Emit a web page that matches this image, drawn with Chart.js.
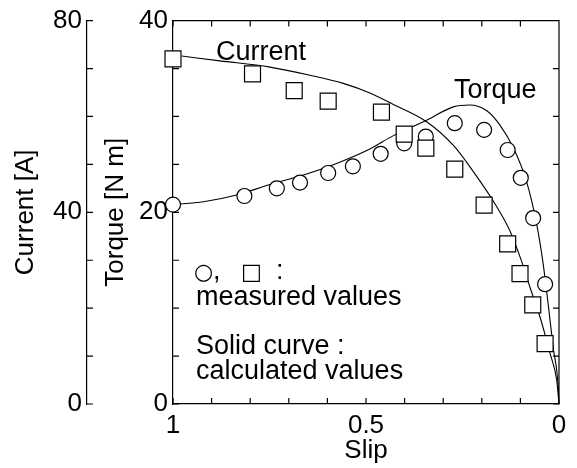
<!DOCTYPE html>
<html>
<head>
<meta charset="utf-8">
<script src="https://cdn.jsdelivr.net/npm/chart.js@4.4.1/dist/chart.umd.min.js"></script>
<style>
html, body { margin: 0; padding: 0; background: #fff; }
canvas { display: block; }
</style>
</head>
<body>
<canvas id="myChart" width="577" height="468"></canvas>
<script>
// tick labels
var slipTicks = [1, 0.5, 0];
var torqueTicks = [0, 20, 40];
var currentTicks = [0, 40, 80];
var slipMinorStep = 0.1, torqueMinorStep = 5, currentMinorStep = 10;

// measured torque (circles)
var measSlipT = [1.0, 0.815, 0.731, 0.671, 0.598, 0.534, 0.462, 0.401, 0.345, 0.270, 0.194, 0.133, 0.099, 0.067, 0.036];
var measTorque = [20.8, 21.7, 22.5, 23.1, 24.1, 24.8, 26.1, 27.2, 27.9, 29.3, 28.6, 26.5, 23.6, 19.4, 12.5];

// measured current (squares)
var measSlipI = [1.0, 0.794, 0.686, 0.598, 0.460, 0.401, 0.345, 0.270, 0.194, 0.133, 0.101, 0.068, 0.036];
var measCurrent = [72.0, 68.9, 65.4, 63.2, 60.9, 56.3, 53.4, 49.0, 41.5, 33.4, 27.2, 20.7, 12.6];

// calculated torque (solid curve)
var calcSlipT = [1.0, 0.921, 0.835, 0.749, 0.662, 0.576, 0.490, 0.429, 0.343, 0.274, 0.231, 0.187, 0.153, 0.118, 0.084, 0.058, 0.042, 0.028, 0.015, 0.002, 0];
var calcTorque = [20.8, 21.1, 21.8, 22.9, 23.9, 25.1, 26.6, 28.0, 29.6, 31.0, 31.2, 30.6, 29.1, 26.7, 23.2, 18.8, 14.9, 10.4, 5.9, 1.8, 0];

// calculated current (solid curve)
var calcSlipI = [0.977, 0.878, 0.749, 0.645, 0.559, 0.490, 0.429, 0.343, 0.274, 0.222, 0.170, 0.127, 0.097, 0.075, 0.049, 0.023, 0.006, 0];
var calcCurrent = [72.6, 71.6, 70.3, 68.6, 66.9, 64.9, 62.5, 58.9, 54.0, 48.5, 42.3, 36.1, 29.8, 24.3, 18.1, 10.5, 5.0, 0];

function pts(xs, ys) {
    return xs.map(function (x, i) { return { x: x, y: ys[i] }; });
}

var FONT = '"Liberation Sans", Arial, Helvetica, sans-serif';
var tickFont = { family: FONT, size: 26 };

var frameTicks = {
    id: 'frameTicks',
    beforeDatasetsDraw: function (chart) {
        var ctx = chart.ctx, a = chart.chartArea;
        var sx = chart.scales.x, sy = chart.scales.y, sc = chart.scales.y2;
        var t = 6, i, p;
        ctx.save();
        ctx.strokeStyle = '#000';
        ctx.lineWidth = 1.2;
        ctx.beginPath();
        ctx.moveTo(a.left, a.top);
        ctx.lineTo(a.right, a.top);
        ctx.lineTo(a.right, a.bottom);
        for (i = 0; i <= 10; i++) {
            p = sx.getPixelForValue(i * slipMinorStep);
            ctx.moveTo(p, a.bottom); ctx.lineTo(p, a.bottom - t);
            ctx.moveTo(p, a.top); ctx.lineTo(p, a.top + t);
        }
        for (i = 0; i <= 8; i++) {
            p = sy.getPixelForValue(i * torqueMinorStep);
            ctx.moveTo(a.left, p); ctx.lineTo(a.left + t, p);
            ctx.moveTo(a.right, p); ctx.lineTo(a.right - t, p);
        }
        for (i = 0; i <= 8; i++) {
            p = sc.getPixelForValue(i * currentMinorStep);
            ctx.moveTo(sc.right, p); ctx.lineTo(sc.right + t, p);
        }
        ctx.stroke();
        ctx.restore();
    },
    afterDatasetsDraw: function (chart) {
        var ctx = chart.ctx, a = chart.chartArea;
        ctx.save();
        ctx.fillStyle = '#000';
        ctx.textBaseline = 'alphabetic';
        ctx.textAlign = 'left';
        ctx.font = '27px ' + FONT;
        ctx.fillText('Current', a.left + 43, a.top + 39);
        ctx.fillText('Torque', a.left + 281, a.top + 77);
        ctx.fillText('measured values', a.left + 23, a.top + 284);
        ctx.fillText('Solid curve :', a.left + 23, a.top + 333);
        ctx.fillText('calculated values', a.left + 23, a.top + 358);
        ctx.fillText(',', a.left + 40, a.top + 258);
        ctx.fillText(':', a.left + 103, a.top + 258);
        ctx.font = '22px "DejaVu Sans", sans-serif';
        ctx.fillText('\u25CB', a.left + 21, a.top + 258);
        ctx.fillText('\u25A1', a.left + 68, a.top + 258);
        ctx.restore();
    }
};

var ctx = document.getElementById('myChart').getContext('2d');
var chartObj = new Chart(ctx, {
    type: 'scatter',
    data: {
        datasets: [
            {
                label: 'Current measured',
                data: pts(measSlipI, measCurrent),
                yAxisID: 'y2',
                pointStyle: 'rect',
                pointRadius: 11.3,
                pointBackgroundColor: '#fff',
                pointBorderColor: '#000',
                pointBorderWidth: 1.2,
                showLine: false,
                clip: false,
                order: 0
            },
            {
                label: 'Torque measured',
                data: pts(measSlipT, measTorque),
                yAxisID: 'y',
                pointStyle: 'circle',
                pointRadius: 7.5,
                pointBackgroundColor: '#fff',
                pointBorderColor: '#000',
                pointBorderWidth: 1.2,
                showLine: false,
                clip: false,
                order: 1
            },
            {
                label: 'Torque calculated',
                data: pts(calcSlipT, calcTorque),
                yAxisID: 'y',
                showLine: true,
                borderColor: '#000',
                borderWidth: 1.1,
                pointRadius: 0,
                cubicInterpolationMode: 'monotone',
                clip: false,
                order: 2
            },
            {
                label: 'Current calculated',
                data: pts(calcSlipI, calcCurrent),
                yAxisID: 'y2',
                showLine: true,
                borderColor: '#000',
                borderWidth: 1.1,
                pointRadius: 0,
                cubicInterpolationMode: 'monotone',
                clip: false,
                order: 3
            }
        ]
    },
    options: {
        responsive: false,
        animation: false,
        devicePixelRatio: 1,
        layout: { padding: { top: 18, right: 18, bottom: 0, left: 0 } },
        plugins: { legend: { display: false }, tooltip: { enabled: false } },
        scales: {
            x: {
                type: 'linear',
                reverse: true,
                min: 0, max: 1,
                afterBuildTicks: function (s) { s.ticks = slipTicks.map(function (v) { return { value: v }; }); },
                afterFit: function (s) { s.height = 64; },
                ticks: { font: tickFont, color: '#000', padding: 6, maxRotation: 0, autoSkip: false,
                    callback: function (v) { return String(v); } },
                grid: { display: false, drawTicks: false },
                border: { display: true, color: '#000', width: 1.2 },
                title: { display: true, text: 'Slip', font: tickFont, color: '#000', padding: { top: 0, bottom: 2 } }
            },
            y: {
                type: 'linear',
                position: 'left',
                weight: 0,
                min: 0, max: 40,
                afterBuildTicks: function (s) { s.ticks = torqueTicks.map(function (v) { return { value: v }; }); },
                afterFit: function (s) { s.width = 86; },
                ticks: { font: tickFont, color: '#000', padding: 5, autoSkip: false },
                grid: { display: false, drawTicks: false },
                border: { display: true, color: '#000', width: 1.2 },
                title: { display: true, text: 'Torque [N m]', font: tickFont, color: '#000', padding: { top: 13, bottom: 0 } }
            },
            y2: {
                type: 'linear',
                position: 'left',
                weight: 1,
                min: 0, max: 80,
                afterBuildTicks: function (s) { s.ticks = currentTicks.map(function (v) { return { value: v }; }); },
                afterFit: function (s) { s.width = 87; },
                ticks: { font: tickFont, color: '#000', padding: 5, autoSkip: false },
                grid: { display: false, drawTicks: false },
                border: { display: true, color: '#000', width: 1.2 },
                title: { display: true, text: 'Current [A]', font: tickFont, color: '#000', padding: { top: 10, bottom: 0 } }
            }
        }
    },
    plugins: [frameTicks]
});
</script>
</body>
</html>
